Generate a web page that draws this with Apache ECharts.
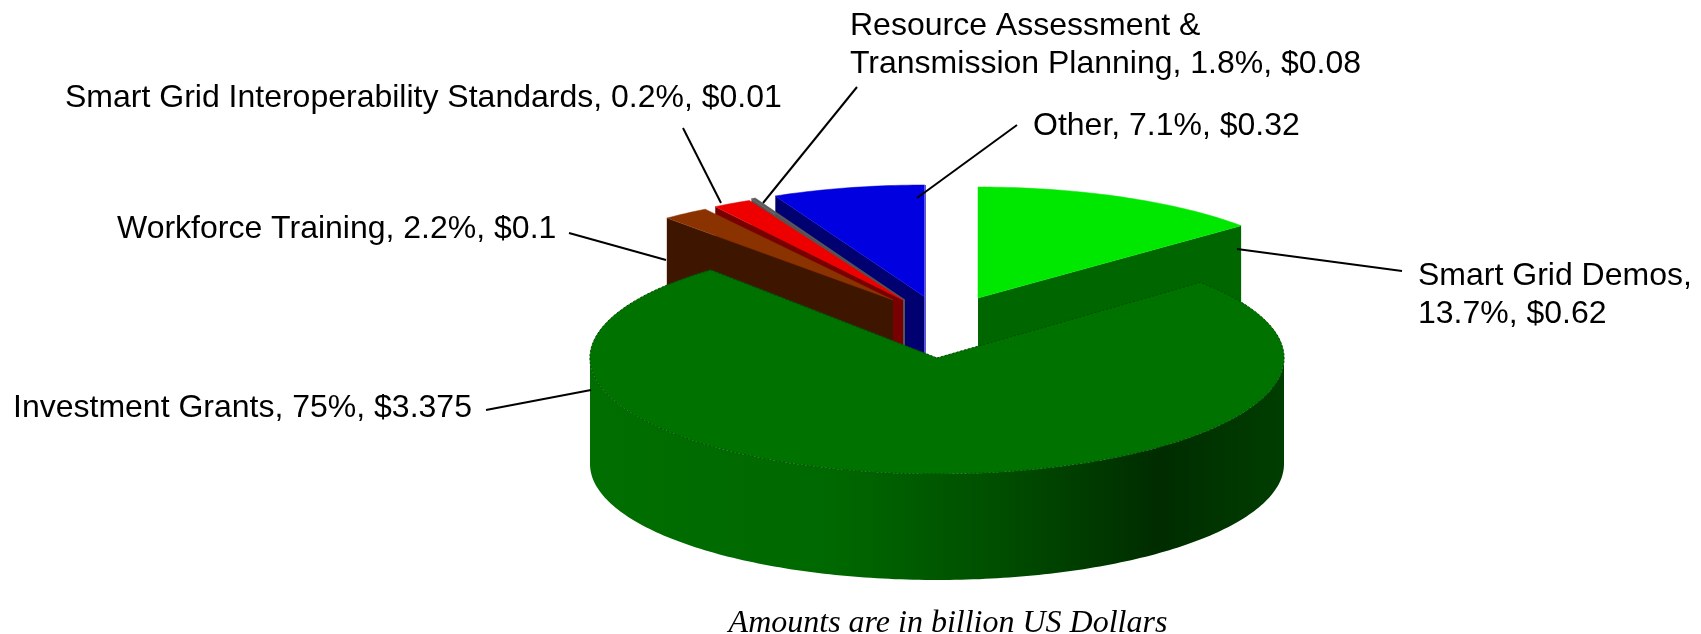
<!DOCTYPE html>
<html>
<head>
<meta charset="utf-8">
<style>html,body{margin:0;padding:0;background:#fff}#c{width:1701px;height:634px}</style>
<script src="https://cdn.jsdelivr.net/npm/echarts@6/dist/echarts.min.js"></script>
</head>
<body>
<div id="c"></div>
<script>
// ---- data (pie order, clockwise from the top) ----
const categories = ['Smart Grid Demos','Investment Grants','Workforce Training','Resource Assessment & Transmission Planning','Smart Grid Interoperability Standards','Other'];
const percents = [13.7, 75, 2.2, 1.8, 0.2, 7.1];
const labels = ['Smart Grid Demos,\n13.7%, $0.62','Investment Grants, 75%, $3.375','Workforce Training, 2.2%, $0.1','Resource Assessment &\nTransmission Planning, 1.8%, $0.08','Smart Grid Interoperability Standards, 0.2%, $0.01','Other, 7.1%, $0.32'];
const caption = 'Amounts are in billion US Dollars';

// ---- styling and layout ----
const topColors  = ['#00e800','#007200','#8b3300','#ee0000','#5a5a5a','#0000e0'];
const faceColors = ['#006600','#007200','#3e1600','#780000','#555555','#000070'];
const rimColors  = [null,null,null,null,null,'#5a5ad8'];
const centers = [[978,298],[937,358],[893,300],[903,300],[905,300],[925,297]];
const radiiY  = [111,116,108,111,113,112];
const RX = 347, DEPTH = 106;
const drawOrder = [5,4,3,2,0,1];
const labelPos = [[1418,295],[13,408],[117,229],[850,45],[65,98],[1033,126]];
const leaders = [[[1237,249],[1402,271]],[[486,410],[591,390]],[[569,233],[666,260]],[[857,87],[763,203]],[[683,128],[721,203]],[[1017,125],[917,198]]];

const total = percents.reduce((a,b)=>a+b,0);
const starts = []; let acc = 0;
percents.forEach(p => { starts.push(acc/total*360); acc += p; });

function pt(i, deg, dy) {
  const r = deg*Math.PI/180;
  return [centers[i][0]+RX*Math.sin(r), centers[i][1]-radiiY[i]*Math.cos(r)+(dy||0)];
}
function arc(i, a, b, dy) {
  const out = [], n = Math.max(2, Math.ceil(Math.abs(b-a)));
  for (let k=0;k<=n;k++) out.push(pt(i, a+(b-a)*k/n, dy));
  return out;
}
const sideGradient = {type:'linear',x:0,y:0,x2:1,y2:0,colorStops:[
  {offset:0,color:'#006e00'},{offset:0.35,color:'#006800'},{offset:0.58,color:'#004f00'},
  {offset:0.82,color:'#002c00'},{offset:1,color:'#003e00'}]};

function renderSlice(params, api) {
  const i = api.value(0), sweep = api.value(1)/total*360;
  const a = starts[i], b = a+sweep, mid = (a+b)/2;
  const c = centers[i], kids = [];
  // front wall
  const fa = Math.max(a,90), fb = Math.min(b,270);
  if (fb > fa) {
    kids.push({type:'polygon',shape:{points:arc(i,fa,fb,0).concat(arc(i,fb,fa,DEPTH))},style:{fill:sideGradient}});
  }
  // cut face seen from the front
  if (sweep < 180 && Math.cos(mid*Math.PI/180) > 0) {
    const e = Math.sin(mid*Math.PI/180) > 0 ? b : a;
    const p = pt(i,e);
    kids.push({type:'polygon',shape:{points:[c,p,[p[0],p[1]+DEPTH],[c[0],c[1]+DEPTH]]},style:{fill:faceColors[i]}});
  }
  // top face
  const top = [c].concat(arc(i,a,b,0));
  kids.push({type:'polygon',shape:{points:top},style:{fill:topColors[i],stroke:topColors[i],lineWidth:0.5}});
  if (sweep >= 180) {
    kids.push({type:'polygon',shape:{points:top},style:{fill:'none',stroke:'#004a00',lineWidth:1,lineDash:[2,2]}});
  }
  if (rimColors[i]) {
    const q = pt(i,b);
    kids.push({type:'line',shape:{x1:q[0],y1:q[1],x2:q[0],y2:c[1]+DEPTH},style:{stroke:rimColors[i],lineWidth:2}});
  }
  return {type:'group',children:kids};
}

const chart = echarts.init(document.getElementById('c'), null, {renderer:'canvas'});
const textBits = labels.map((t,i)=>({type:'text',x:labelPos[i][0],y:labelPos[i][1],z:10,
  style:{text:t,fill:'#000',font:'32px "Liberation Sans"',lineHeight:38,verticalAlign:'middle',align:'left'}}));
const lineBits = leaders.map(l=>({type:'line',z:10,shape:{x1:l[0][0],y1:l[0][1],x2:l[1][0],y2:l[1][1]},style:{stroke:'#000',lineWidth:2}}));
chart.setOption({
  animation:false,
  backgroundColor:'#fff',
  series:[{type:'custom',coordinateSystem:'none',silent:true,renderItem:renderSlice,
    data:drawOrder.map(i=>({name:categories[i],value:[i,percents[i]]}))}],
  graphic:{elements:textBits.concat(lineBits,[{type:'text',x:948,y:624,z:10,
    style:{text:caption,fill:'#000',font:'italic 32px "Liberation Serif"',align:'center',verticalAlign:'middle'}}])}
});
</script>
</body>
</html>
